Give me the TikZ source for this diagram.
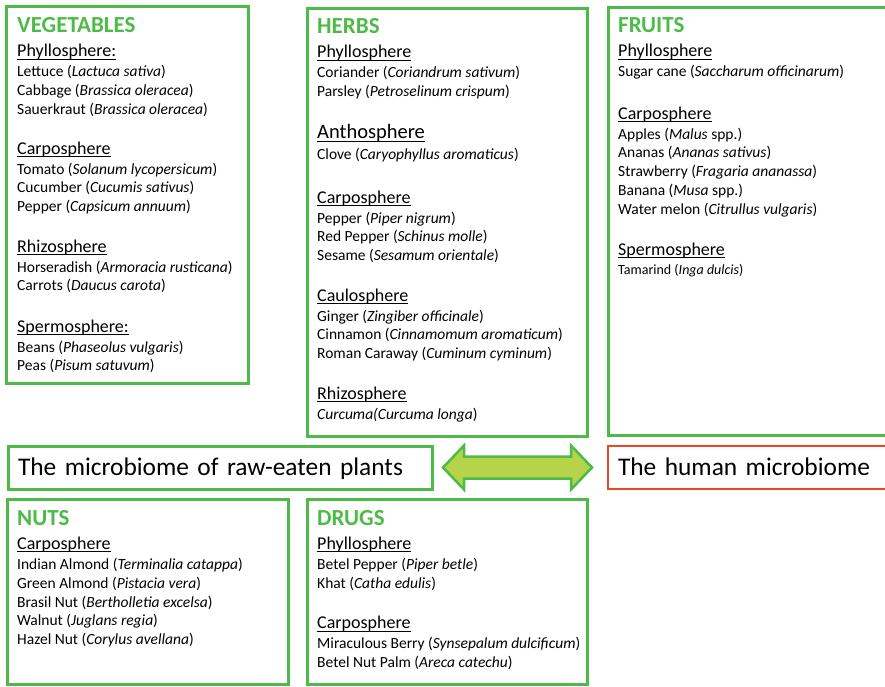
\documentclass[tikz,border=0pt]{standalone}
\usepackage{fontspec}
\setmainfont{Carlito}
\usetikzlibrary{calc}

\definecolor{leaf}{RGB}{77,187,71}
\definecolor{shoot}{RGB}{181,212,74}
\definecolor{flesh}{RGB}{231,72,40}

% underlined sphere heading; the 15pt strut fixes the first baseline
\newcommand{\spherehead}[2][18]{\rule{0pt}{15pt}{\fontsize{#1}{#1}\selectfont%
  \setbox0\hbox{#2}\copy0\llap{\rule[-3.2pt]{\wd0}{1.2pt}}}}

\begin{document}
\begin{tikzpicture}[
  x=1pt,y=-1pt,
  frame/.style={draw=leaf,line width=3pt},
  title/.style={anchor=base west,inner sep=0pt,text=leaf,
                font=\fontsize{23}{27}\selectfont\bfseries},
  sphere/.style={anchor=north west,yshift=15pt,inner sep=0pt,align=left,
                 font=\fontsize{15.5}{18.8}\selectfont},
  tag/.style={draw=leaf,line width=3pt,outer sep=0pt,anchor=north west,
              minimum height=43pt,inner xsep=10pt,align=left,
              text height=19.5pt,text depth=4pt,font=\fontsize{25.4}{30}\selectfont},
  twoway/.style={draw=leaf,fill=shoot,line width=2.5pt,line join=miter}
]
\useasboundingbox (0,0) rectangle (885,686);
\clip (0,0) rectangle (885,686);

% category frames
\draw[frame] (6,6) rectangle (248,383);
\draw[frame] (307,8) rectangle (587,436);
\draw[frame] (608,7) rectangle (900,435);
\draw[frame] (7,499) rectangle (288,684);
\draw[frame] (307,499) rectangle (587,684);

% vegetables
\node[title] (veg) at (17,32.3) {VEGETABLES};
\node[sphere] (veg-phyllo) at (17,56.5) {\spherehead{Phyllosphere:}\\[1pt]
  Lettuce (\textit{Lactuca sativa})\\
  Cabbage (\textit{Brassica oleracea})\\
  Sauerkraut (\textit{Brassica oleracea})};
\node[sphere] (veg-carpo) at (17,154) {\spherehead{Carposphere}\\[1pt]
  Tomato (\textit{Solanum lycopersicum})\\
  Cucumber (\textit{Cucumis sativus})\\
  Pepper (\textit{Capsicum annuum})};
\node[sphere] (veg-rhizo) at (17,252) {\spherehead{Rhizosphere}\\[1pt]
  Horseradish (\textit{Armoracia rusticana})\\
  Carrots (\textit{Daucus carota})};
\node[sphere] (veg-sperm) at (17,332) {\spherehead{Spermosphere:}\\[1pt]
  Beans (\textit{Phaseolus vulgaris})\\
  Peas (\textit{Pisum satuvum})};

% herbs
\node[title] (herbs) at (317,33.3) {HERBS};
\node[sphere] (herbs-phyllo) at (317,57.3) {\spherehead{Phyllosphere}\\[1pt]
  Coriander (\textit{Coriandrum sativum})\\
  Parsley (\textit{Petroselinum crispum})};
\node[sphere] (herbs-antho) at (317,138.3) {\spherehead[20.5]{Anthosphere}\\[2pt]
  Clove (\textit{Caryophyllus aromaticus})};
\node[sphere] (herbs-carpo) at (317,203) {\spherehead{Carposphere}\\[1pt]
  Pepper (\textit{Piper nigrum})\\
  Red Pepper (\textit{Schinus molle})\\
  Sesame (\textit{Sesamum orientale})};
\node[sphere] (herbs-caulo) at (317,301) {\spherehead{Caulosphere}\\[1pt]
  Ginger (\textit{Zingiber officinale})\\
  Cinnamon (\textit{Cinnamomum aromaticum})\\
  Roman Caraway (\textit{Cuminum cyminum})};
\node[sphere] (herbs-rhizo) at (317,399) {\spherehead{Rhizosphere}\\[1pt]
  \textit{Curcuma(Curcuma longa})};

% fruits
\node[title] (fruits) at (618,32.3) {FRUITS};
\node[sphere] (fruits-phyllo) at (618,56.7) {\spherehead{Phyllosphere}\\[1pt]
  Sugar cane (\textit{Saccharum officinarum})};
\node[sphere] (fruits-carpo) at (618,119) {\spherehead{Carposphere}\\[1pt]
  Apples (\textit{Malus} spp.)\\
  Ananas (\textit{Ananas sativus})\\
  Strawberry (\textit{Fragaria ananassa})\\
  Banana (\textit{Musa} spp.)\\
  Water melon (\textit{Citrullus vulgaris})};
\node[sphere] (fruits-sperm) at (618,255) {\spherehead{Spermosphere}\\[0pt]
  {\fontsize{14}{14}\selectfont Tamarind (\textit{Inga dulcis})}};

% the two microbiomes
\node[tag,text width=404pt] (plants) at (8,446) {The microbiome of raw-eaten plants};
\node[tag,draw=flesh,line width=2.5pt,text width=280pt] (human) at (608,446) {The human microbiome};
\draw[twoway] ($(plants.east)+(11,0)$) -- ++(21,-22) -- ++(0,11) -- ++(107,0)
  -- ++(0,-11) -- ++(21,22) -- ++(-21,22) -- ++(0,-11) -- ++(-107,0)
  -- ++(0,11) -- cycle;

% nuts
\node[title] (nuts) at (17,525) {NUTS};
\node[sphere] (nuts-carpo) at (17,549) {\spherehead{Carposphere}\\[1.5pt]
  Indian Almond (\textit{Terminalia catappa})\\
  Green Almond (\textit{Pistacia vera})\\
  Brasil Nut (\textit{Bertholletia excelsa})\\
  Walnut (\textit{Juglans regia})\\
  Hazel Nut (\textit{Corylus avellana})};

% drugs
\node[title] (drugs) at (317,525) {DRUGS};
\node[sphere] (drugs-phyllo) at (317,549) {\spherehead{Phyllosphere}\\[1.5pt]
  Betel Pepper (\textit{Piper betle})\\
  Khat (\textit{Catha edulis})};
\node[sphere] (drugs-carpo) at (317,628.3) {\spherehead{Carposphere}\\[1pt]
  Miraculous Berry (\textit{Synsepalum dulcificum})\\
  Betel Nut Palm (\textit{Areca catechu})};
\end{tikzpicture}
\end{document}
